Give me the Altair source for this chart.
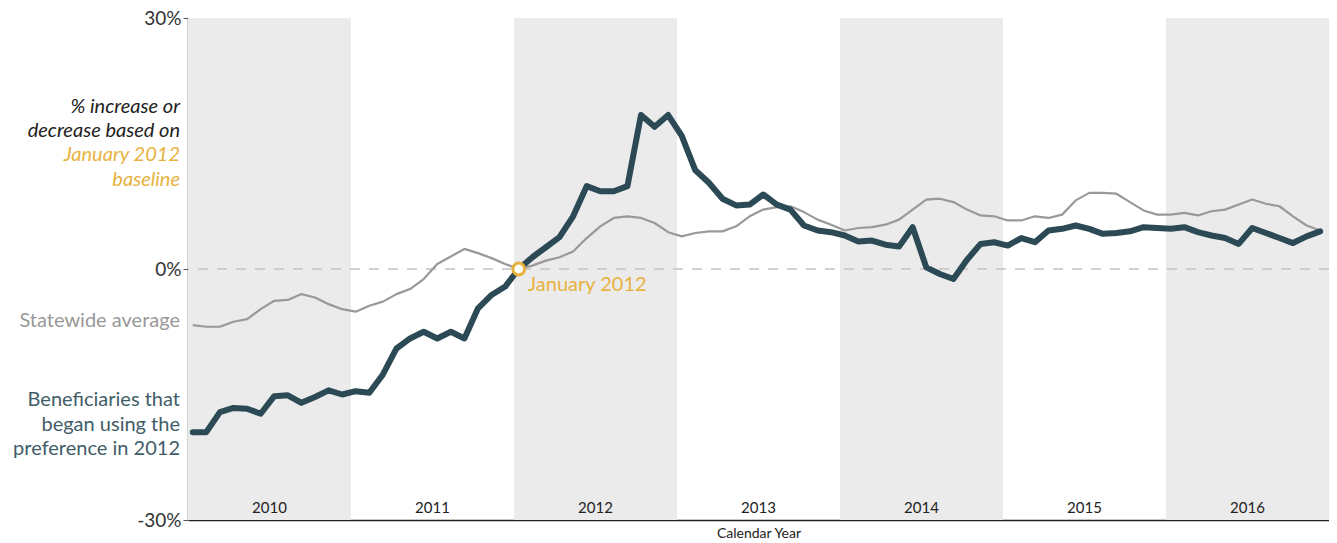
import altair as alt
import pandas as pd

# ---- data (percent change vs. January 2012), monthly Jan 2010 .. Dec 2016 ----
years = [2010, 2011, 2012, 2013, 2014, 2015, 2016]

beneficiaries = [
    -19.5, -19.5, -17.1, -16.6, -16.7, -17.3, -15.2, -15.1, -16.0, -15.3, -14.5, -15.0,
    -14.6, -14.8, -12.6, -9.5, -8.3, -7.5, -8.3, -7.5, -8.3, -4.7, -3.1, -2.1,
    0.0, 1.4, 2.6, 3.8, 6.3, 9.9, 9.3, 9.3, 9.9, 18.4, 17.0, 18.4,
    15.9, 11.8, 10.3, 8.4, 7.6, 7.7, 8.9, 7.7, 7.1, 5.2, 4.6, 4.4,
    4.0, 3.3, 3.4, 2.9, 2.7, 5.0, 0.2, -0.6, -1.2, 1.1, 3.0, 3.2,
    2.8, 3.7, 3.2, 4.6, 4.8, 5.2, 4.8, 4.2, 4.3, 4.5, 5.0, 4.9,
    4.8, 5.0, 4.4, 4.0, 3.7, 3.0, 4.9, 4.3, 3.7, 3.1, 3.9, 4.5,
]

statewide = [
    -6.7, -6.9, -6.9, -6.3, -6.0, -4.8, -3.8, -3.7, -3.0, -3.4, -4.2, -4.8,
    -5.1, -4.4, -3.9, -3.0, -2.4, -1.2, 0.6, 1.5, 2.4, 1.9, 1.3, 0.6,
    0.0, 0.4, 1.0, 1.4, 2.1, 3.7, 5.1, 6.1, 6.3, 6.1, 5.5, 4.4,
    3.9, 4.3, 4.5, 4.5, 5.1, 6.3, 7.1, 7.4, 7.5, 6.8, 5.9, 5.3,
    4.6, 4.9, 5.0, 5.3, 5.9, 7.1, 8.3, 8.4, 8.0, 7.1, 6.4, 6.3,
    5.8, 5.8, 6.3, 6.1, 6.5, 8.2, 9.1, 9.1, 9.0, 8.0, 7.0, 6.5,
    6.5, 6.7, 6.4, 6.9, 7.1, 7.7, 8.3, 7.8, 7.5, 6.3, 5.2, 4.6,
]

baseline_month_index = 24  # January 2012
baseline_value = 0.0

# ---- styling ----
FONT = "Lato"
DARK = "#2b4a56"
DARK_TEXT = "#3f5c68"
GRAY = "#999999"
GOLD = "#e8b23f"
BAND = "#ebebeb"

W, H = 1141, 502
OFF = 0.35  # month point offset inside each month slot

# ---- tables built from arrays ----
n = len(beneficiaries)
line_df = pd.DataFrame({
    "t": [i + OFF for i in range(n)] * 2,
    "value": beneficiaries + statewide,
    "series": ["Beneficiaries"] * n + ["Statewide"] * n,
})
band_df = pd.DataFrame({
    "year": [str(y) for y in years],
    "start": [12 * k for k in range(len(years))],
    "end": [12 * (k + 1) for k in range(len(years))],
    "shaded": [k % 2 == 0 for k in range(len(years))],
})
band_df["mid"] = (band_df["start"] + band_df["end"]) / 2
base_df = pd.DataFrame({"t": [baseline_month_index + OFF], "value": [baseline_value]})
one = pd.DataFrame({"a": [0]})

xs = alt.Scale(domain=[0, 12 * len(years)], nice=False, zero=False)
ys = alt.Scale(domain=[-30, 30], nice=False, zero=False)

bands = alt.Chart(band_df).transform_filter("datum.shaded").mark_rect(color=BAND).encode(
    x=alt.X("start:Q", scale=xs,
            axis=alt.Axis(title="Calendar Year", labels=False, ticks=False, grid=False,
                          domainColor="#222", domainWidth=1.5, titleFont=FONT,
                          titleFontSize=14, titleFontWeight="normal", titleColor="#222",
                          titlePadding=6)),
    x2="end:Q",
    y=alt.datum(30, scale=ys),
    y2=alt.datum(-30),
)

year_text = alt.Chart(band_df).mark_text(font=FONT, fontSize=15, color="#222",
                                         baseline="middle").encode(
    x=alt.X("mid:Q", scale=xs),
    y=alt.value(490),
    text="year:N",
)

zero_rule = alt.Chart(one).mark_rule(color="#c4c4c4", strokeDash=[10, 9], strokeWidth=1.5).encode(
    y=alt.datum(0, scale=ys)
)

y_axis = alt.Axis(values=[-30, 0, 30], labelExpr="datum.value + '%'", title=None, grid=False,
                  domainColor="#555", domainWidth=1.5, tickColor="#555", tickSize=5,
                  labelFont=FONT, labelFontSize=19, labelColor="#333", labelPadding=2)

gray_line = alt.Chart(line_df).transform_filter("datum.series == 'Statewide'").mark_line(
    color=GRAY, strokeWidth=2.2, strokeJoin="round").encode(
    x=alt.X("t:Q", scale=xs),
    y=alt.Y("value:Q", scale=ys, axis=y_axis),
)

dark_line = alt.Chart(line_df).transform_filter("datum.series == 'Beneficiaries'").mark_line(
    color=DARK, strokeWidth=6, strokeJoin="round", strokeCap="round").encode(
    x=alt.X("t:Q", scale=xs),
    y=alt.Y("value:Q", scale=ys),
)

base_point = alt.Chart(base_df).mark_point(shape="circle", size=140, filled=False, fill="white",
                                           fillOpacity=1, stroke=GOLD, strokeWidth=3,
                                           opacity=1).encode(
    x=alt.X("t:Q", scale=xs),
    y=alt.Y("value:Q", scale=ys),
)

base_label = alt.Chart(base_df).mark_text(text="January 2012", font=FONT, fontSize=20,
                                          color=GOLD, align="left", baseline="middle",
                                          dx=9, dy=16).encode(
    x=alt.X("t:Q", scale=xs),
    y=alt.Y("value:Q", scale=ys),
)


def side_text(txt, y, color, style="normal", weight="normal"):
    return alt.Chart(one).mark_text(text=txt, font=FONT, fontSize=20, color=color,
                                    align="right", baseline="middle", fontStyle=style,
                                    fontWeight=weight).encode(
        x=alt.value(-8), y=alt.value(y))


side = [
    side_text("% increase or", 89, "#222", "italic"),
    side_text("decrease based on", 113, "#222", "italic"),
    side_text("January 2012", 137, GOLD, "italic"),
    side_text("baseline", 162, GOLD, "italic"),
    side_text("Statewide average", 303, GRAY),
    side_text("Beneficiaries that", 382, DARK_TEXT),
    side_text("began using the", 407, DARK_TEXT),
    side_text("preference in 2012", 431, DARK_TEXT),
]

chart = alt.layer(bands, year_text, zero_rule, gray_line, dark_line, base_point, base_label,
                  *side).properties(
    width=W, height=H,
    padding={"left": 180, "top": 10, "right": 0, "bottom": 20},
    autosize=alt.AutoSizeParams(type="none"),
    background="white",
).configure_view(stroke=None)

chart.save("out.html", embed_options={"renderer": "svg", "actions": False})
